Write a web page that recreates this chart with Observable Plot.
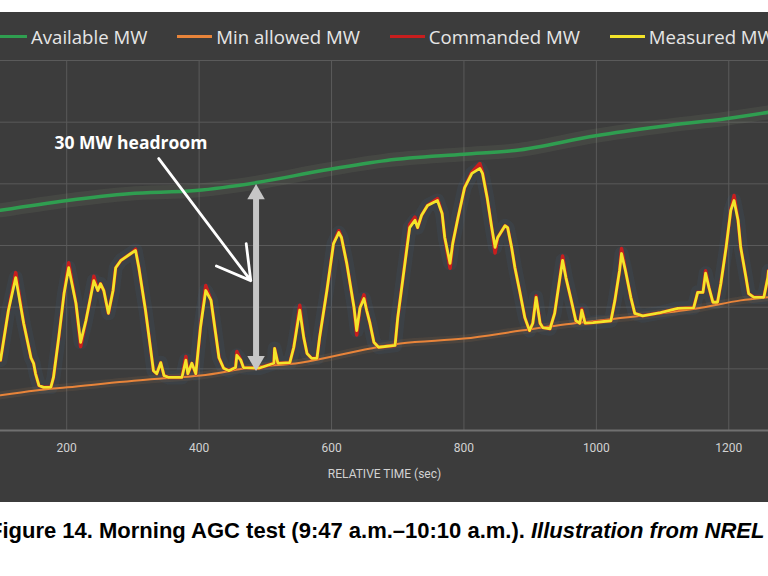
<!DOCTYPE html>
<html><head><meta charset="utf-8">
<script src="https://cdn.jsdelivr.net/npm/d3@7"></script>
<script src="https://cdn.jsdelivr.net/npm/@observablehq/plot@0.6"></script>
<style>
body{margin:0;background:#fff;width:768px;height:576px;overflow:hidden;position:relative}
#panel{position:absolute;top:12px;left:0;width:768px;height:490px;background:#3c3c3c;overflow:hidden}
#legend{position:absolute;top:0;left:-8px;height:48px;display:flex;align-items:center;gap:30px;white-space:nowrap;font-family:"Open Sans",sans-serif;font-size:18.6px;color:#e6e6e6}
.item{display:flex;align-items:center;gap:4px}
.sw{width:35px;height:3px;display:inline-block}
#chart{position:absolute;top:46px;left:0}
#caption{position:absolute;top:518px;left:-11px;white-space:nowrap;font-family:"Liberation Sans",Arial,sans-serif;font-weight:bold;font-size:22px;color:#000}
</style>
</head><body>
<div id="panel"><div id="legend"></div><div id="chart"></div></div>
<div id="caption"></div>
<script>
// ---- data ----
const seriesNames = ["Available MW", "Min allowed MW", "Commanded MW", "Measured MW"];
const seriesColors = ["#2f9e50", "#e8843a", "#c81e1e", "#f3e42a"];
const xTicks = [200, 400, 600, 800, 1000, 1200];
const yGrid = [0, 10, 20, 30, 40, 50, 60];
const xLabel = "RELATIVE TIME (sec)";
const captionMain = "Figure 14. Morning AGC test (9:47 a.m.\u201310:10 a.m.). ";
const captionItalic = "Illustration from NREL";

const availT = [100, 201, 294, 395, 487, 588, 683, 800, 877, 999, 1097, 1198, 1260];
const availV = [35.7, 37.3, 38.4, 38.9, 40.2, 42.2, 43.8, 44.8, 45.4, 47.8, 49.3, 50.6, 51.6];

const minT = [100, 153, 201, 327, 402, 478, 553, 659, 704, 800, 886, 976, 1067, 1158, 1218, 1260];
const minV = [5.7, 6.5, 7.0, 8.3, 8.9, 10.2, 11.0, 13.3, 14.1, 14.9, 16.2, 17.5, 18.6, 19.9, 21.1, 21.6];

const time = [100,112,123,135,146,150,153,158,165,176,180,188,196,203,214,221,229,236,241,247,251,256,263,270,274,282,297,304,309,319,327,331,336,342,347,354,374,380,383,389,395,402,410,418,425,430,437,445,455,457,463,467,490,513,514,519,537,543,552,558,563,570,578,582,593,603,611,615,623,634,638,643,649,653,658,664,671,696,700,708,718,726,730,736,745,760,767,771,779,783,791,801,812,824,828,835,842,847,851,862,866,872,877,884,892,899,904,909,915,919,930,937,945,949,954,961,969,975,978,983,995,1022,1028,1035,1038,1044,1052,1058,1070,1097,1123,1147,1153,1161,1165,1170,1176,1183,1188,1196,1203,1208,1214,1218,1226,1230,1238,1253,1259,1260];
const measured = [11.4,19.5,24.8,17.4,11.8,10.9,9.2,7.3,7.0,7.0,8.6,15.1,22.2,26.4,20.6,14.3,17.8,21.6,24.3,22.7,23.8,22.7,19.0,22.7,26.4,27.6,28.7,29.2,26.4,19.5,13.0,9.7,9.2,11.0,8.9,8.6,8.6,11.4,9.2,10.9,9.2,16.7,22.7,21.1,15.7,11.8,10.1,9.7,10.2,12.2,11.4,10.2,10.1,10.9,13.3,10.9,11.0,13.5,19.5,15.1,12.5,11.7,11.7,15.1,22.7,30.3,32.1,31.3,27.1,19.9,16.2,19.9,21.4,19.5,17.4,14.3,13.5,13.8,18.3,24.8,32.9,34.1,32.9,34.9,36.5,37.3,35.2,31.3,27.1,30.3,34.5,39.4,41.7,42.5,41.7,37.8,32.9,29.7,31.3,33.2,32.9,29.7,26.4,22.7,18.3,16.2,17.4,21.6,17.4,16.7,16.5,19.0,24.8,27.6,24.8,21.6,17.8,17.4,19.5,17.4,17.5,17.8,21.1,25.9,28.7,25.9,21.6,19.0,18.6,19.1,19.8,19.9,22.4,22.4,25.5,23.2,20.8,20.8,23.8,29.7,35.7,37.3,34.1,29.7,24.8,22.2,21.6,21.6,24.8,25.9];
const commanded = [11.4,19.5,25.6,17.4,11.8,10.9,9.2,7.3,7.0,7.0,8.6,15.1,22.2,27.2,20.6,13.6,17.8,21.6,25.0,22.7,23.8,22.7,19.0,22.7,26.4,27.6,28.7,29.4,26.4,19.5,13.0,9.7,9.2,11.0,8.9,8.6,8.6,12.0,9.2,10.9,9.2,16.7,23.5,21.1,15.7,11.8,10.1,9.7,10.2,12.8,11.4,10.2,10.1,10.9,13.3,10.9,11.0,13.5,20.3,15.1,12.5,11.7,11.7,15.1,22.7,30.3,32.4,31.3,27.1,19.9,15.5,19.9,22.0,19.5,17.4,14.3,13.5,13.8,18.3,24.8,33.4,34.6,32.9,34.9,36.5,37.6,35.2,31.3,26.3,30.3,34.5,39.4,41.9,43.3,41.9,37.8,32.9,28.8,31.3,33.2,32.9,29.7,26.4,22.7,18.3,16.2,17.4,21.8,17.4,16.7,16.5,19.0,24.8,28.3,24.8,21.6,17.8,17.4,19.7,17.4,17.5,17.8,21.1,25.9,29.5,25.9,21.6,19.0,18.6,19.1,19.8,19.9,22.4,22.4,25.9,23.2,20.8,20.8,23.8,29.7,35.7,38.1,34.1,29.7,24.8,22.2,21.6,21.6,24.8,25.9];

// annotation values
const headroomLabel = ["30 MW headroom"];
const labelT = [297], labelV = [46.5];
const headroomT = [486], headroomLow = [11.6], headroomHigh = [38.0];
const pointerT = [339, 478], pointerV = [44.1, 24.3];

// ---- legend ----
const legend = document.getElementById("legend");
seriesNames.forEach((n, i) => {
  const it = document.createElement("div"); it.className = "item";
  const sw = document.createElement("span"); sw.className = "sw"; sw.style.background = seriesColors[i];
  const tx = document.createElement("span"); tx.textContent = n;
  it.appendChild(sw); it.appendChild(tx); legend.appendChild(it);
});
const cap = document.getElementById("caption");
cap.appendChild(document.createTextNode(captionMain));
const it = document.createElement("i"); it.textContent = captionItalic; cap.appendChild(it);

// ---- chart ----
const avail = availT.map((t, i) => ({t, v: availV[i]}));
const minA = minT.map((t, i) => ({t, v: minV[i]}));
const meas = time.map((t, i) => ({t, v: measured[i]}));
const comm = time.map((t, i) => ({t, v: commanded[i]}));

const chart = Plot.plot({
  width: 768, height: 444,
  marginTop: 2, marginBottom: 72, marginLeft: 0, marginRight: 0,
  style: {background: "transparent", color: "#cfcfcf", fontFamily: "Roboto, sans-serif", fontSize: "12px", overflow: "visible"},
  x: {domain: [100, 1260]},
  y: {domain: [0, 60], axis: null},
  marks: [
    Plot.gridX(xTicks, {stroke: "#5a5a5a", strokeOpacity: 1, strokeWidth: 1}),
    Plot.gridY(yGrid, {stroke: "#5a5a5a", strokeOpacity: 1, strokeWidth: 1}),
    Plot.ruleY([0], {stroke: "#707070", strokeWidth: 2}),
    // glows
    Plot.line(avail, {x: "t", y: "v", stroke: "#8a9a78", strokeWidth: 14, strokeOpacity: 0.12, curve: "monotone-x"}),
    Plot.line(meas, {x: "t", y: "v", stroke: "#3f6488", strokeWidth: 14, strokeOpacity: 0.14, curve: "linear"}),
    Plot.line(minA, {x: "t", y: "v", stroke: "#c08050", strokeWidth: 8, strokeOpacity: 0.12, curve: "monotone-x"}),
    // series
    Plot.line(avail, {x: "t", y: "v", stroke: seriesColors[0], strokeWidth: 3.5, curve: "monotone-x"}),
    Plot.line(minA, {x: "t", y: "v", stroke: seriesColors[1], strokeWidth: 2, curve: "monotone-x"}),
    Plot.line(comm, {x: "t", y: "v", stroke: seriesColors[2], strokeWidth: 3.5, curve: "linear"}),
    Plot.line(meas, {x: "t", y: "v", stroke: seriesColors[3], strokeWidth: 2.8, curve: "linear"}),
    // headroom double arrow
    Plot.ruleX(headroomT, {x: d => d, y1: headroomLow[0], y2: headroomHigh[0], stroke: "#c6c6c6", strokeWidth: 6}),
    Plot.dot(headroomT, {x: d => d, y: headroomHigh[0], symbol: "triangle", r: 6.5, fill: "#c6c6c6", stroke: "none", dy: -2}),
    Plot.dot(headroomT, {x: d => d, y: headroomLow[0], symbol: "triangle", r: 6.5, fill: "#c6c6c6", stroke: "none", rotate: 180, dy: 2}),
    // pointer arrow
    Plot.arrow([0], {x1: () => pointerT[0], y1: () => pointerV[0], x2: () => pointerT[1], y2: () => pointerV[1], stroke: "#ffffff", strokeWidth: 2.8, headLength: 20}),
    Plot.text(headroomLabel, {x: labelT[0], y: labelV[0], text: d => d, fill: "#ffffff", fontSize: 17.5, fontWeight: "bold", fontFamily: "Open Sans, sans-serif"}),
    // axis
    Plot.axisX(xTicks, {tickSize: 0, tickPadding: 13, fill: "#d2d2d2", fontSize: 12, tickFormat: d => String(d), label: null}),
    Plot.text([xLabel], {frameAnchor: "bottom", dy: 47, text: d => d, fill: "#d2d2d2", fontSize: 12})
  ]
});
document.getElementById("chart").appendChild(chart);
</script>
</body></html>
